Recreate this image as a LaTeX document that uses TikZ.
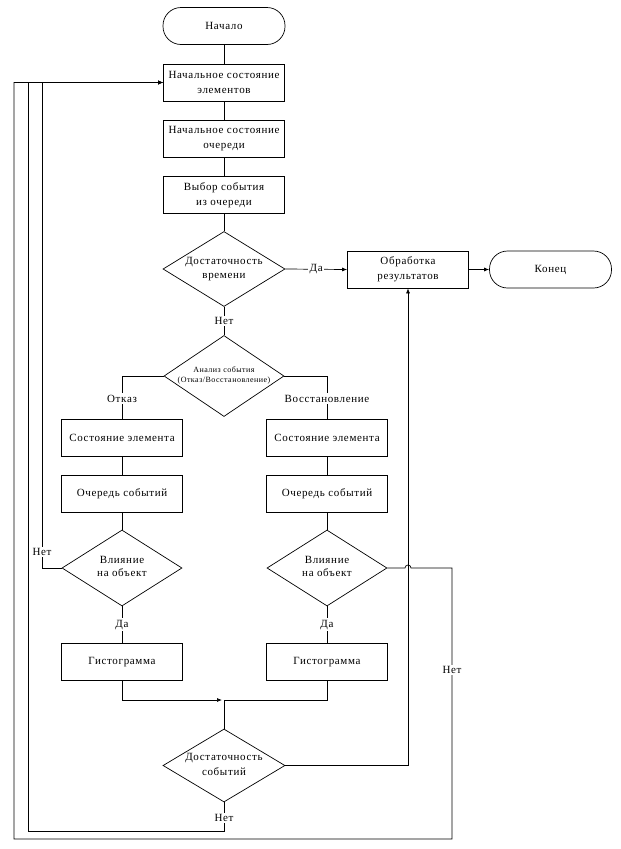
\documentclass[tikz,border=0pt]{standalone}
\usepackage{fontspec}
\setmainfont{Liberation Serif}[LetterSpace=6]
\usetikzlibrary{shapes.geometric,arrows.meta}
\newcommand{\dtxt}[1]{\raisebox{-0.9ex}{\smash{\makebox[0pt]{\def\arraystretch{0.95}\begin{tabular}{@{}c@{}}#1\end{tabular}}}}}
\tikzset{
  x=1pt, y=-1pt,
  every path/.style={line width=0.7pt},
  base/.style={draw, inner sep=0pt, align=center, font=\fontsize{11}{15}\selectfont},
  procbox/.style={base, rectangle, minimum width=121pt, minimum height=37pt},
  termbox/.style={base, rectangle, rounded corners=18pt, minimum width=122pt, minimum height=37pt},
  decbox/.style={base, diamond, minimum width=122pt, minimum height=75pt},
  lbl/.style={fill=white, inner sep=1.5pt, font=\fontsize{11}{13}\selectfont},
  arr/.style={-{Latex[length=5pt,width=4pt]}},
}
\begin{document}
\begin{tikzpicture}
\useasboundingbox (0,0) rectangle (621,849);
% main column
\node[termbox] (start) at (224,26) {Начало};
\node[procbox] (b1) at (224,82.5) {Начальное состояние\\элементов};
\node[procbox] (b2) at (224,139) {Начальное состояние\\очереди};
\node[procbox] (b3) at (224,195) {Выбор события\\из очереди};
\node[decbox] (d1) at (224,269) {\dtxt{Достаточность\\времени}};
\node[procbox] (proc) at (408,269.5) {Обработка\\результатов};
\node[termbox] (end) at (550.5,269.5) {Конец};
\node[decbox, minimum height=81pt, minimum width=120pt, font=\fontsize{8}{10.5}\selectfont] (d2) at (224,376) {\dtxt{Анализ события\\(Отказ/Восстановление)}};
% left column
\node[procbox] (l1) at (122,437.5) {Состояние элемента};
\node[procbox] (l2) at (122,493.5) {Очередь событий};
\node[decbox, minimum width=120pt, minimum height=76pt, font=\fontsize{11}{14}\selectfont] (ld) at (122,568) {\dtxt{Влияние\\на объект}};
\node[procbox] (lh) at (122,662) {Гистограмма};
% right column
\node[procbox] (r1) at (327,437.5) {Состояние элемента};
\node[procbox] (r2) at (327,493.5) {Очередь событий};
\node[decbox, minimum width=120pt, minimum height=76pt, font=\fontsize{11}{14}\selectfont] (rd) at (327,568) {\dtxt{Влияние\\на объект}};
\node[procbox] (rh) at (327,662) {Гистограмма};
% bottom decision
\node[decbox, minimum height=73pt] (d3) at (224,765.5) {\dtxt{Достаточность\\событий}};

\coordinate (merge) at (224,700);
\coordinate (mergeL) at (222,700);

% straight links
\draw (start) -- (b1);
\draw (b1) -- (b2);
\draw (b2) -- (b3);
\draw (b3) -- (d1);
\draw[arr] (d1.east) -- node[lbl] (da1) {Да} (proc.west);
\draw[arr] (proc) -- (end);
\draw (d1.south) -- node[lbl, pos=0.5] (net1) {Нет} (d2.north);
% analysis branches
\draw (d2.west) -| node[lbl, pos=0.765] (otk) {Отказ} (l1.north);
\draw (d2.east) -| node[lbl, pos=0.765] (vos) {Восстановление} (r1.north);
\draw (l1) -- (l2);
\draw (l2) -- (ld);
\draw (r1) -- (r2);
\draw (r2) -- (rd);
\draw (ld.south) -- node[lbl] (da2) {Да} (lh.north);
\draw (rd.south) -- node[lbl] (da3) {Да} (rh.north);
% merge
\draw[arr] (lh.south) |- (mergeL);
\draw (rh.south) |- (merge);
\draw (merge) -- (d3.north);
% bottom decision yes -> processing
\draw[arr] (d3.east) -| (proc.south);
% loops
\draw[arr] (ld.west) -- (42,568) -- node[lbl, pos=0.033] (net2) {Нет} (42,82.5) -- (b1.west);
\draw[arr] (d3.south) -- node[lbl, pos=0.55] (net3) {Нет} (224,831) -- (28,831) -- (28,82.5) -- (b1.west);
\draw[arr] (rd.east) -- (405,568) arc[start angle=180, end angle=360, radius=3] -- (452,568)
  -- node[lbl, pos=0.376] (net4) {Нет} (452,839) -- (14,839) -- (14,82.5) -- (b1.west);
\end{tikzpicture}
\end{document}
